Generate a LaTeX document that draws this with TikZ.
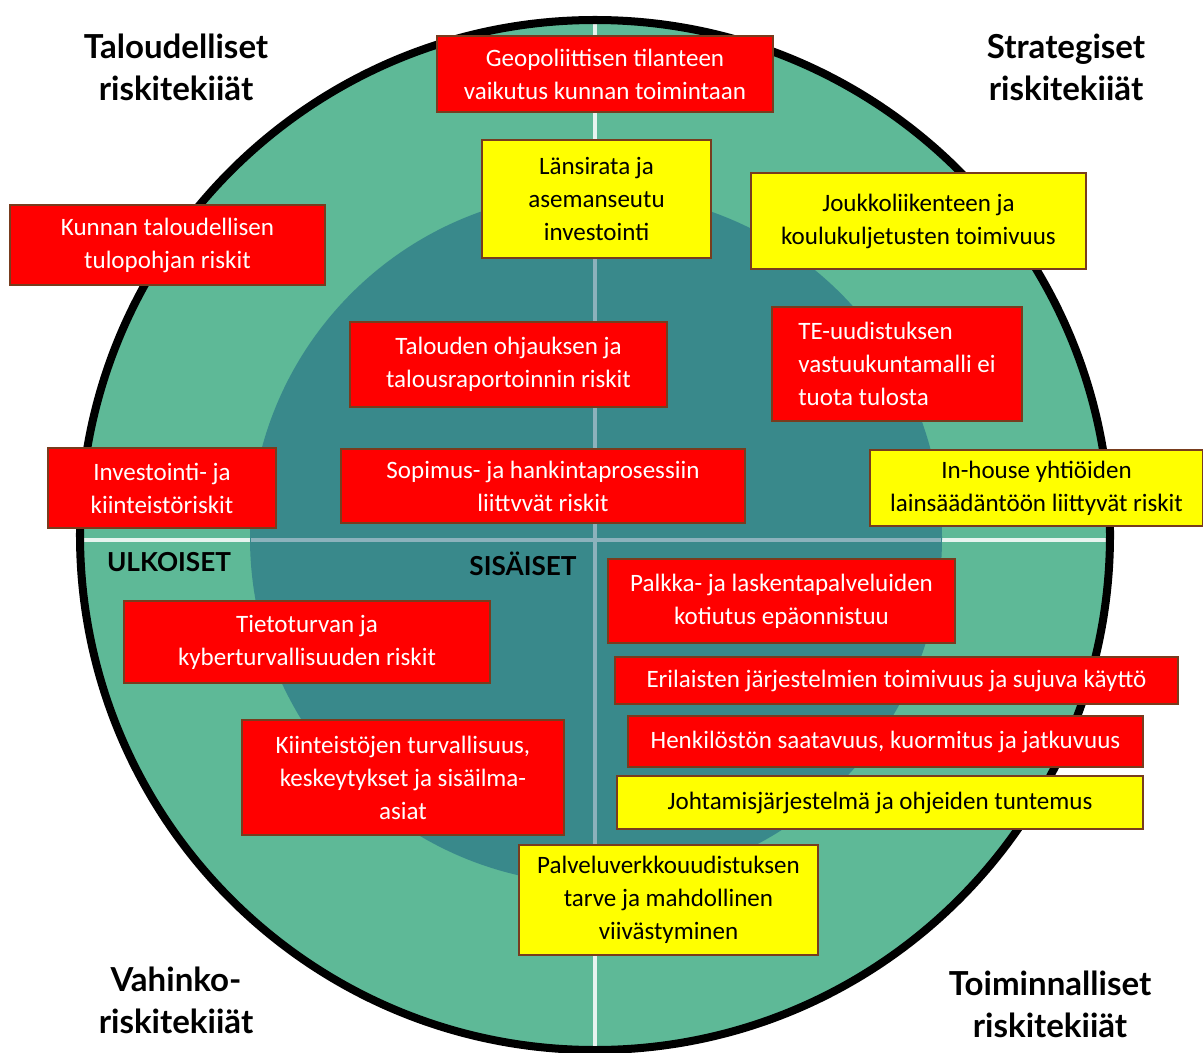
\documentclass[tikz,border=0pt]{standalone}
\usepackage{fontspec}
\setmainfont{Carlito}
\newfontfamily\headfont{Lato}
\usepackage{xcolor}
\usepackage{tikz}
\usetikzlibrary{
    positioning
}
\definecolor{outerGreen}{RGB}{94, 185, 151}
\definecolor{innerTeal}{RGB}{57, 137, 139}
\definecolor{boxRed}{RGB}{255, 0, 0}
\definecolor{boxYellow}{RGB}{255, 255, 0}
\definecolor{boxEdge}{RGB}{120, 60, 30}
\definecolor{innerLine}{RGB}{140, 178, 188}
\tikzset{
    riskbox/.style={draw=boxEdge, line width=1pt, align=center, inner sep=2pt,
        font=\fontsize{17.8}{23.4}\selectfont},
    redbox/.style={riskbox, fill=boxRed, text=white},
    yellowbox/.style={riskbox, fill=boxYellow, text=black},
    headtxt/.style={align=center, font=\headfont\bfseries\fontsize{23.5}{30}\selectfont},
    sidetxt/.style={font=\headfont\bfseries\fontsize{18.6}{20}\selectfont}
}

\begin{document}
\begin{tikzpicture}[x=0.025cm, y=-0.025cm]
        \useasboundingbox (0,0) rectangle (1203,1052);
        % rings
        \fill[outerGreen] (595,535) circle (515);
        \draw[white, opacity=0.85, line width=2.2pt] (595,20) -- (595,1050);
        \draw[white, opacity=0.85, line width=2.2pt] (82,540) -- (1108,540);
        \fill[innerTeal] (596,538) circle (346);
        \draw[innerLine, line width=2.2pt] (595,193) -- (595,883);
        \draw[innerLine, line width=2.2pt] (251,540) -- (941,540);
        \draw[black, line width=5.7pt] (595,535) circle (515);
        % corner titles
        \node[headtxt] (talous) at (176,67) {Taloudelliset\\riskitekiiät};
        \node[headtxt] (strat) at (1066,67) {Strategiset\\riskitekiiät};
        \node[headtxt] (vahinko) at (176,1000) {Vahinko-\\riskitekiiät};
        \node[headtxt] (toimi) at (1050,1004) {Toiminnalliset\\riskitekiiät};
        \node[sidetxt] (ulkoiset) at (169,562) {ULKOISET};
        \node[sidetxt] (sisaiset) at (523,564) {SISÄISET};
        % risks
        \node[redbox, minimum width=8.4cm, minimum height=1.9cm] (geo) at (605,74)
            {Geopoliittisen tilanteen\\vaikutus kunnan toimintaan};
        \node[yellowbox, minimum width=5.725cm, minimum height=2.95cm] (lansi) at (596.5,199)
            {Länsirata ja\\asemanseutu\\investointi};
        \node[yellowbox, minimum width=8.375cm, minimum height=2.4cm] (joukko) at (918.5,221)
            {Joukkoliikenteen ja\\koulukuljetusten toimivuus};
        \node[redbox, minimum width=7.875cm, minimum height=2cm] (tulopohja) at (167.5,245)
            {Kunnan taloudellisen\\tulopohjan riskit};
        \node[redbox, minimum width=7.925cm, minimum height=2.125cm] (ohjaus) at (508.5,364.5)
            {Talouden ohjauksen ja\\talousraportoinnin riskit};
        \node[redbox, align=left, minimum width=6.25cm, minimum height=2.85cm] (te) at (897,364)
            {TE-uudistuksen\\vastuukuntamalli ei\\tuota tulosta};
        \node[redbox, minimum width=5.7cm, minimum height=2cm] (kiint) at (162,488)
            {Investointi- ja\\kiinteistöriskit};
        \node[redbox, minimum width=10.1cm, minimum height=1.85cm] (sopimus) at (543,486)
            {Sopimus- ja hankintaprosessiin\\liittvvät riskit};
        \node[yellowbox, minimum width=8.325cm, minimum height=1.9cm] (inhouse) at (1036.5,488)
            {In-house yhtiöiden\\lainsäädäntöön liittyvät riskit};
        \node[redbox, minimum width=8.675cm, minimum height=2.1cm] (palkka) at (781.5,601)
            {Palkka- ja laskentapalveluiden\\kotiutus epäonnistuu};
        \node[redbox, minimum width=14.075cm, minimum height=1.175cm] (jarj) at (896.5,680.5)
            {Erilaisten järjestelmien toimivuus ja sujuva käyttö};
        \node[redbox, minimum width=12.875cm, minimum height=1.275cm] (henk) at (885.5,741.5)
            {Henkilöstön saatavuus, kuormitus ja jatkuvuus};
        \node[yellowbox, minimum width=13.15cm, minimum height=1.325cm] (johto) at (880,802.5)
            {Johtamisjärjestelmä ja ohjeiden tuntemus};
        \node[redbox, minimum width=9.15cm, minimum height=2.05cm] (tieto) at (307,642)
            {Tietoturvan ja\\kyberturvallisuuden riskit};
        \node[redbox, minimum width=8.05cm, minimum height=2.875cm] (turva) at (403,777.5)
            {Kiinteistöjen turvallisuus,\\keskeytykset ja sisäilma-\\asiat};
        \node[yellowbox, minimum width=7.475cm, minimum height=2.75cm] (verkko) at (668.5,900)
            {Palveluverkkouudistuksen\\tarve ja mahdollinen\\viivästyminen};
    \end{tikzpicture}
\end{document}
